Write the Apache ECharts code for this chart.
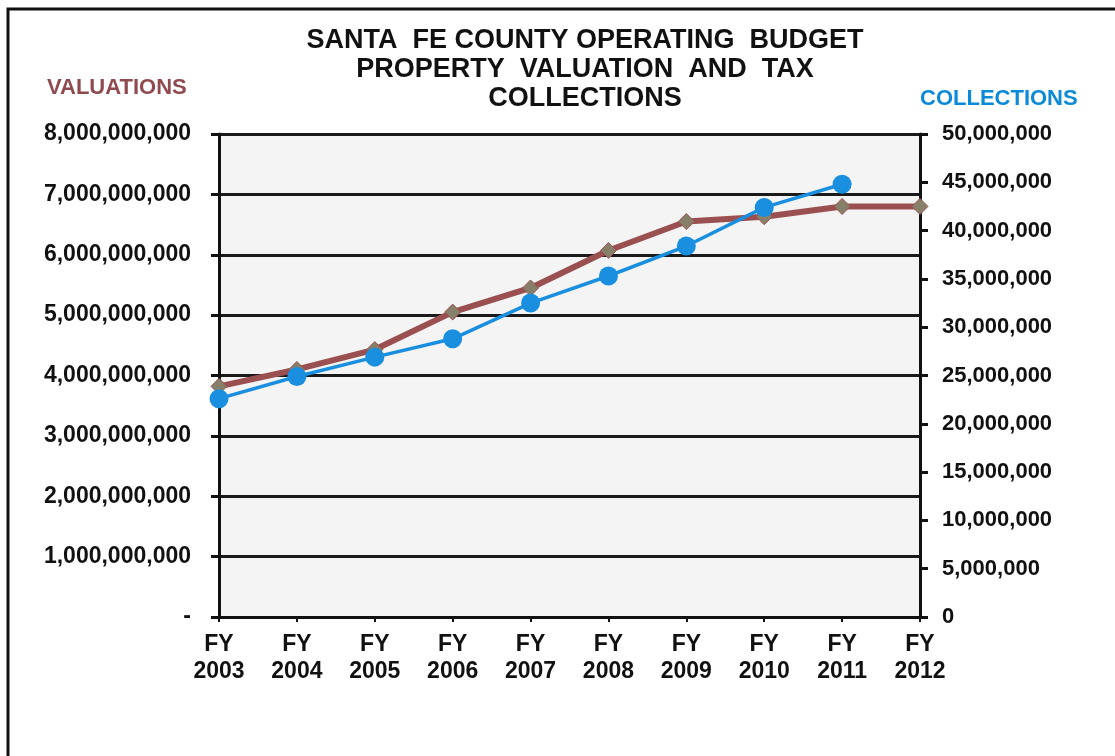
<!DOCTYPE html>
<html>
<head>
<meta charset="utf-8">
<script src="https://cdn.jsdelivr.net/npm/echarts@6/dist/echarts.min.js"></script>
<style>
html,body{margin:0;padding:0;background:#fff;}
#chart{width:1115px;height:756px;}
</style>
</head>
<body>
<div id="chart"></div>
<script>
// ---- data ----
const years = ['2003','2004','2005','2006','2007','2008','2009','2010','2011','2012'];
const valuations = [3820000000, 4100000000, 4430000000, 5050000000, 5450000000, 6070000000, 6550000000, 6630000000, 6800000000, 6800000000];
const collections = [22600000, 24900000, 26900000, 28800000, 32500000, 35300000, 38400000, 42400000, 44800000, null];
const titleLines = ['SANTA  FE COUNTY OPERATING  BUDGET', 'PROPERTY  VALUATION  AND  TAX', 'COLLECTIONS'];
const leftAxisName = 'VALUATIONS';
const rightAxisName = 'COLLECTIONS';

const FONT = '"Liberation Sans", Arial, sans-serif';
const fmt = v => v.toString().replace(/\B(?=(\d{3})+(?!\d))/g, ',');

const chart = echarts.init(document.getElementById('chart'), null, {renderer: 'canvas'});
chart.setOption({
  backgroundColor: '#ffffff',
  animation: false,
  title: {
    text: titleLines.join('\n'),
    left: 580,
    textAlign: 'center',
    top: 21,
    textStyle: {fontFamily: FONT, fontSize: 27, fontWeight: 'bold', color: '#111', lineHeight: 29}
  },
  graphic: [
    {type: 'rect', shape: {x: 8, y: 9, width: 1300, height: 900}, style: {fill: null, stroke: '#111', lineWidth: 3}, silent: true, z: 100},
    {type: 'text', left: 47, top: 77, style: {text: leftAxisName, fontFamily: FONT, fontSize: 22, fontWeight: 'bold', fill: '#8f4a50'}},
    {type: 'text', left: 920, top: 88, style: {text: rightAxisName, fontFamily: FONT, fontSize: 22, fontWeight: 'bold', fill: '#0b8ad8'}}
  ],
  grid: {left: 219, top: 134, width: 701, height: 483, show: true, backgroundColor: '#f4f4f4', borderWidth: 0},
  xAxis: {
    type: 'category',
    data: years,
    boundaryGap: false,
    axisLine: {lineStyle: {color: '#111', width: 3}},
    axisTick: {show: true, length: 5, lineStyle: {color: '#111', width: 2}},
    axisLabel: {
      formatter: v => 'FY\n' + v,
      fontFamily: FONT, fontSize: 23, fontWeight: 'bold', color: '#111', lineHeight: 27, margin: 14
    },
    splitLine: {show: false}
  },
  yAxis: [
    {
      type: 'value', min: 0, max: 8000000000, interval: 1000000000,
      position: 'left',
      axisLine: {show: true, lineStyle: {color: '#111', width: 3}},
      axisTick: {show: true, length: 8, lineStyle: {color: '#111', width: 3}},
      axisLabel: {formatter: v => v === 0 ? '-' : fmt(v), fontFamily: FONT, fontSize: 23, fontWeight: 'bold', color: '#111', margin: 28},
      splitLine: {show: true, lineStyle: {color: '#1a1a1a', width: 3}}
    },
    {
      type: 'value', min: 0, max: 50000000, interval: 5000000,
      position: 'right',
      axisLine: {show: true, lineStyle: {color: '#111', width: 3}},
      axisTick: {show: true, length: 8, lineStyle: {color: '#111', width: 3}},
      axisLabel: {formatter: v => fmt(v), fontFamily: FONT, fontSize: 22, fontWeight: 'bold', color: '#111', margin: 22},
      splitLine: {show: false}
    }
  ],
  series: [
    {
      name: 'Valuations', type: 'line', yAxisIndex: 0, data: valuations,
      lineStyle: {color: '#9a5050', width: 6},
      symbol: 'diamond', symbolSize: 16,
      itemStyle: {color: '#86806a', borderColor: '#9a5050', borderWidth: 1},
      z: 3
    },
    {
      name: 'Collections', type: 'line', yAxisIndex: 1, data: collections,
      lineStyle: {color: '#1a8fe0', width: 3.5},
      symbol: 'circle', symbolSize: 19,
      itemStyle: {color: '#1a8fe0'},
      z: 4
    }
  ]
});
</script>
</body>
</html>
